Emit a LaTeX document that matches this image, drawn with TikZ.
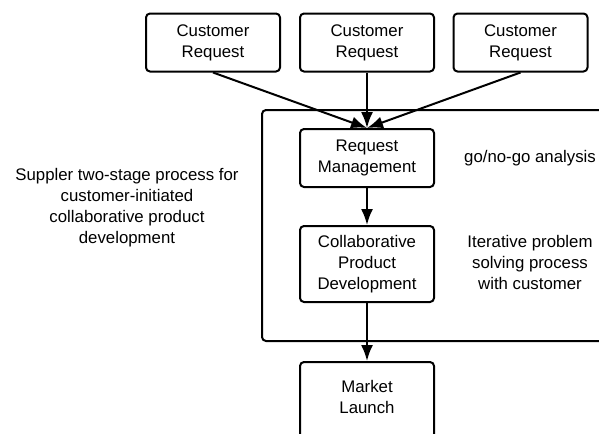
\documentclass[tikz,border=0pt]{standalone}
\usepackage{fontspec}
\setmainfont{Liberation Sans}
\usepackage{tikz}
\usetikzlibrary{arrows.meta}
\usetikzlibrary{positioning}
\tikzset{>={Latex[length=12pt,width=9pt]}}
\tikzstyle{stage} = [draw, rounded corners=3pt, line width=1.5pt, align=center, minimum width=100.5pt, minimum height=43.5pt, inner sep=0]
\tikzstyle{note} = [draw=none, align=center, inner sep=0]
\tikzstyle{flow} = [->, line width=1.5pt]

\begin{document}
\begin{tikzpicture}[x=0.75pt, y=-0.75pt, font=\fontsize{12.6}{15.75}\selectfont]
\useasboundingbox (0,0) rectangle (599,433);
\clip (0,0) rectangle (599,433);
% supplier process frame
\draw [rounded corners=3pt, line width=1.5pt] (262,110) rectangle (640,341);
\node [stage] (C1) at (213,42.5) {Customer\\Request};
\node [stage] (C2) at (367,42.5) {Customer\\Request};
\node [stage] (C3) at (520.5,42.5) {Customer\\Request};
\node [stage] (RM) at (367,158) {Request\\Management};
\node [stage, minimum height=57pt] (CPD) at (367,264) {Collaborative\\Product\\Development};
\node [stage, minimum height=57pt, anchor=north, text depth=4.5pt] (ML) at (367,361) {Market\\Launch};
\node [note] (go) at (530,158) {go/no-go analysis};
\node [note] (iter) at (530,262) {Iterative problem\\solving process\\with customer};
\node [note] (sup) at (127,207.5) {Suppler two-stage process for\\customer-initiated\\collaborative product\\development};
\draw [flow] (C1.south) to (RM.north);
\draw [flow] (C2.south) to (RM.north);
\draw [flow] (C3.south) to (RM.north);
\draw [flow] (RM) to (CPD);
\draw [flow] (CPD) to (ML);
\end{tikzpicture}
\end{document}
